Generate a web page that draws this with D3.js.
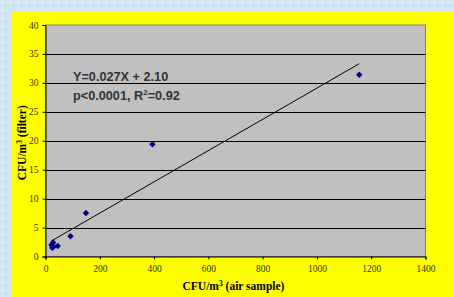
<!DOCTYPE html>
<html>
<head>
<meta charset="utf-8">
<script src="https://cdn.jsdelivr.net/npm/d3@7"></script>
<style>
  body { margin: 0; background: #d3e4f6; }
  svg { display: block; }
</style>
</head>
<body>
<svg width="454" height="297"></svg>
<script>
// data
var airSample = [22, 25, 28, 30, 45, 92, 149, 394, 1156];
var filterCfu = [2.0, 1.5, 2.4, 1.7, 1.8, 3.5, 7.5, 19.4, 31.4];
var xTicks = [0, 200, 400, 600, 800, 1000, 1200, 1400];
var yTicks = [0, 5, 10, 15, 20, 25, 30, 35, 40];
var slope = 0.027, intercept = 2.10;

var svg = d3.select("svg");

// textured light blue background
var defs = svg.append("defs");
var pat = defs.append("pattern").attr("id", "bg").attr("width", 8).attr("height", 8)
  .attr("patternUnits", "userSpaceOnUse");
pat.append("rect").attr("width", 8).attr("height", 8).attr("fill", "#d3e4f6");
pat.append("rect").attr("x", 1).attr("y", 2).attr("width", 3).attr("height", 2).attr("fill", "#e4eefa");
pat.append("rect").attr("x", 5).attr("y", 5).attr("width", 2).attr("height", 2).attr("fill", "#c6dbf2");
svg.append("rect").attr("width", 454).attr("height", 297).attr("fill", "url(#bg)");

// yellow chart area
svg.append("rect").attr("x", 11).attr("y", 12).attr("width", 443).attr("height", 285).attr("fill", "#ffff00");

var margin = { top: 25, left: 45.5, right: 425.5, bottom: 256.5 };

var x = d3.scaleLinear().domain([0, 1400]).range([margin.left, margin.right]);
var y = d3.scaleLinear().domain([0, 40]).range([margin.bottom, margin.top]);

// plot area
svg.append("rect")
  .attr("x", margin.left).attr("y", margin.top)
  .attr("width", margin.right - margin.left).attr("height", margin.bottom - margin.top)
  .attr("fill", "#c0c0c0").attr("stroke", "#808080").attr("stroke-width", 1);

// gridlines
svg.append("g").selectAll("line")
  .data(yTicks.slice(1, -1))
  .enter().append("line")
  .attr("x1", margin.left).attr("x2", margin.right)
  .attr("y1", function(d) { return Math.round(y(d)) + 0.5; })
  .attr("y2", function(d) { return Math.round(y(d)) + 0.5; })
  .attr("stroke", "#000").attr("stroke-width", 1);

// axes
var xAxis = svg.append("g")
  .attr("transform", "translate(0," + margin.bottom + ")")
  .call(d3.axisBottom(x).tickValues(xTicks).tickFormat(d3.format("d")).tickSize(3).tickPadding(6));
var yAxis = svg.append("g")
  .attr("transform", "translate(" + margin.left + ",0)")
  .call(d3.axisLeft(y).tickValues(yTicks).tickFormat(d3.format("d")).tickSize(3).tickPadding(4));

[xAxis, yAxis].forEach(function(a) {
  a.select(".domain").attr("stroke", "#000");
  a.selectAll(".tick line").attr("stroke", "#000");
  a.selectAll("text")
    .attr("font-family", "Liberation Serif, Times New Roman, serif")
    .attr("font-size", 9.5)
    .attr("fill", "#333300");
});

// trend line
var xMin = d3.min(airSample), xMax = d3.max(airSample);
svg.append("line")
  .attr("x1", x(xMin)).attr("y1", y(slope * xMin + intercept))
  .attr("x2", x(xMax)).attr("y2", y(slope * xMax + intercept))
  .attr("stroke", "#000").attr("stroke-width", 1);

// points (square diamonds, rounded)
svg.append("g").selectAll("path")
  .data(airSample)
  .enter().append("path")
  .attr("d", d3.symbol().type(d3.symbolSquare).size(10))
  .attr("transform", function(d, i) {
    return "translate(" + x(d) + "," + y(filterCfu[i]) + ") rotate(45)";
  })
  .attr("fill", "#000080")
  .attr("stroke", "#000080").attr("stroke-width", 1.5).attr("stroke-linejoin", "round");

// equation text
var eq = svg.append("g")
  .attr("font-family", "Liberation Sans, Arial, sans-serif")
  .attr("font-weight", "bold")
  .attr("font-size", 12.7)
  .attr("fill", "#333333");
eq.append("text").attr("x", 73).attr("y", 81).text("Y=0.027X + 2.10");
var t2 = eq.append("text").attr("x", 73).attr("y", 100);
t2.append("tspan").text("p<0.0001, R");
t2.append("tspan").attr("font-size", 8).attr("dy", -5).text("2");
t2.append("tspan").attr("dy", 5).text("=0.92");

// axis titles
var xt = svg.append("text")
  .attr("x", (margin.left + margin.right) / 2 - 2).attr("y", 290)
  .attr("text-anchor", "middle")
  .attr("font-family", "Liberation Serif, Times New Roman, serif")
  .attr("font-weight", "bold").attr("font-size", 11.5).attr("fill", "#000");
xt.append("tspan").text("CFU/m");
xt.append("tspan").attr("font-size", 7.5).attr("dy", -4).text("3");
xt.append("tspan").attr("dy", 4).text(" (air sample)");

var yt = svg.append("text")
  .attr("transform", "translate(26," + ((margin.top + margin.bottom) / 2 + 2) + ") rotate(-90)")
  .attr("text-anchor", "middle")
  .attr("font-family", "Liberation Serif, Times New Roman, serif")
  .attr("font-weight", "bold").attr("font-size", 11.5).attr("fill", "#000");
yt.append("tspan").text("CFU/m");
yt.append("tspan").attr("font-size", 7.5).attr("dy", -4).text("3");
yt.append("tspan").attr("dy", 4).text(" (filter)");
</script>
</body>
</html>
